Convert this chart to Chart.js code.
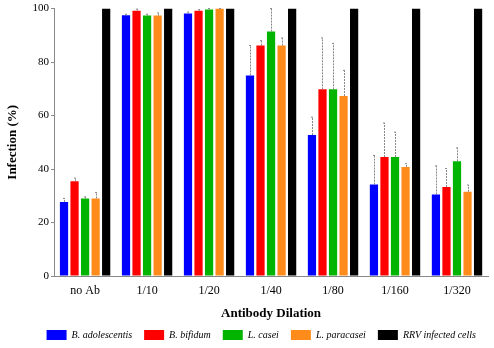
<!DOCTYPE html>
<html>
<head>
    <meta charset="UTF-8">
    <title>Infection chart</title>
    <style>
        body { margin: 0; background: #fff; }
    </style>
</head>
<body>
<canvas id="chart" width="494" height="348"></canvas>

<script src="https://cdn.jsdelivr.net/npm/chart.js"></script>
<script>

    // categories
    var dilutions = ["no Ab", "1/10", "1/20", "1/40", "1/80", "1/160", "1/320"];

    // series values (%)
    var adolescentis = [27.7, 97.5, 98.2, 75.0, 52.7, 34.2, 30.5];
    var bifidum      = [35.4, 99.2, 99.2, 86.2, 69.8, 44.5, 33.3];
    var casei        = [29.0, 97.4, 99.7, 91.4, 69.8, 44.5, 42.9];
    var paracasei    = [29.0, 97.4, 100,  86.2, 67.3, 40.8, 31.5];
    var rrv          = [100, 100, 100, 100, 100, 100, 100];

    // upper end of the error bars
    var adolescentis_err = [29.0, 97.9, 98.7, 86.2, 59.4, 45.1, 41.2];
    var bifidum_err      = [36.6, 99.8, 99.6, 88.0, 89.0, 57.2, 40.2];
    var casei_err        = [29.6, 97.9, 100,  100,  87.0, 53.8, 47.9];
    var paracasei_err    = [31.2, 98.4, 100,  89.0, 76.9, 42.0, 34.0];

    var y_ticks = [0, 20, 40, 60, 80, 100];

    var serif = "'Liberation Serif', 'DejaVu Serif', serif";

    // draws the upward error bars from the bar scale
    const errorBars = {
        id: 'errorBars',
        afterDatasetsDraw(chart) {
            const ctx = chart.ctx;
            const yScale = chart.scales.y;
            ctx.save();
            ctx.strokeStyle = '#888888';
            ctx.lineWidth = 1;
            ctx.setLineDash([2, 1]);
            chart.data.datasets.forEach(function(ds, i) {
                if (!ds.err) return;
                const meta = chart.getDatasetMeta(i);
                meta.data.forEach(function(bar, j) {
                    const x = Math.round(bar.x) + 0.5;
                    const yTop = yScale.getPixelForValue(ds.err[j]);
                    ctx.beginPath();
                    ctx.moveTo(x, bar.y);
                    ctx.lineTo(x, yTop);
                    ctx.stroke();
                    ctx.beginPath();
                    ctx.moveTo(x - 1.5, yTop);
                    ctx.lineTo(x + 1.5, yTop);
                    ctx.stroke();
                });
            });
            ctx.restore();
        }
    };

    const data = {
        labels: dilutions,
        datasets: [{
            label: 'B. adolescentis',
            data: adolescentis,
            err: adolescentis_err,
            backgroundColor: '#0000ff'
        }, {
            label: 'B. bifidum',
            data: bifidum,
            err: bifidum_err,
            backgroundColor: '#ff0000'
        }, {
            label: 'L. casei',
            data: casei,
            err: casei_err,
            backgroundColor: '#00b400'
        }, {
            label: 'L. paracasei',
            data: paracasei,
            err: paracasei_err,
            backgroundColor: '#ff8c1a'
        }, {
            label: 'RRV infected cells',
            data: rrv,
            backgroundColor: '#000000'
        }]
    };

    const config = {
        type: 'bar',
        data: data,
        plugins: [errorBars],
        options: {
            responsive: false,
            animation: false,
            layout: {
                padding: { top: 2, right: 6, left: 5, bottom: -2 }
            },
            datasets: {
                bar: {
                    categoryPercentage: 0.85,
                    barPercentage: 0.78
                }
            },
            scales: {
                x: {
                    grid: { display: false, drawTicks: false, tickLength: 0 },
                    border: { color: '#888888', dash: [2, 2] },
                    ticks: {
                        color: '#000',
                        font: { family: serif, size: 12 },
                        padding: 8
                    },
                    title: {
                        display: true,
                        text: 'Antibody Dilation',
                        color: '#000',
                        font: { family: serif, size: 13, weight: 'bold' },
                        padding: { top: -1, bottom: -3 }
                    }
                },
                y: {
                    min: 0,
                    max: 100,
                    afterBuildTicks: function(axis) {
                        axis.ticks = y_ticks.map(function(v) { return { value: v }; });
                    },
                    grid: {
                        drawOnChartArea: false,
                        tickLength: 3,
                        color: '#888888'
                    },
                    border: { color: '#888888', dash: [2, 2] },
                    ticks: {
                        color: '#000',
                        font: { family: serif, size: 11 },
                        padding: 2
                    },
                    title: {
                        display: true,
                        text: 'Infection (%)',
                        color: '#000',
                        font: { family: serif, size: 13, weight: 'bold' },
                        padding: { top: 0, bottom: 10 }
                    }
                }
            },
            plugins: {
                legend: {
                    position: 'bottom',
                    align: 'end',
                    labels: {
                        boxWidth: 20,
                        boxHeight: 10,
                        padding: 12,
                        color: '#000',
                        font: { family: serif, size: 10, style: 'italic' }
                    }
                },
                tooltip: { enabled: false }
            }
        }
    };

    window.myChart = new Chart(document.getElementById('chart'), config);

</script>
</body>
</html>
